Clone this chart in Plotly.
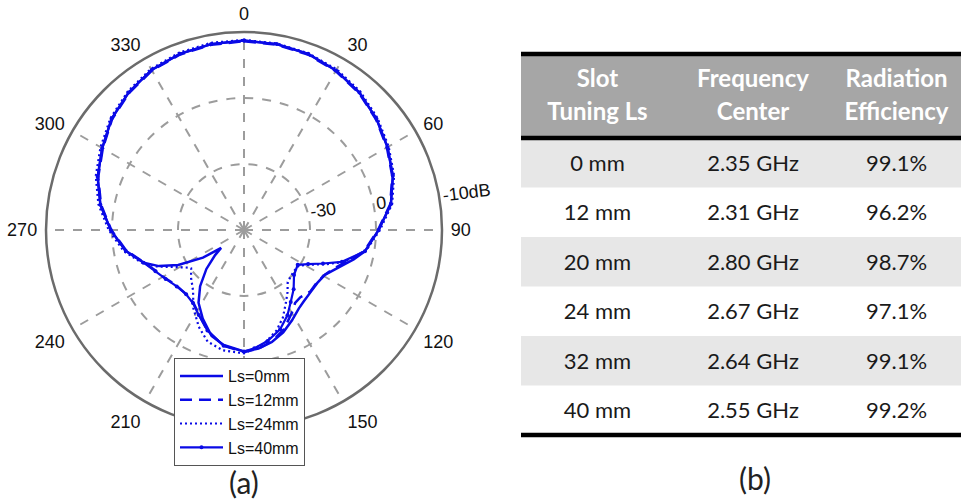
import plotly.graph_objects as go

# ---------------- data ----------------
angle_ticks = [0, 30, 60, 90, 120, 150, 180, 210, 240, 270, 300, 330]
angle_ticktext = ["0", "30", "60", "90", "120", "150", "", "210", "240", "270", "300", "330"]  # 180 hidden by legend
radial_tickvals = [1, 2, 3]
radial_ticktext = ["-30", "0", "-10dB"]

theta_ls0 = [0, 10, 20, 30, 40, 50, 60, 70, 80, 90, 100, 105, 110, 119, 126, 133, 140, 145, 152,
             159, 166, 173, 180, 190, 197, 205, 212, 218, 224, 229, 232, 236, 242, 247, 252, 260,
             270, 280, 290, 300, 310, 320, 330, 340, 350, 360]
r_ls0 = [2.87, 2.86, 2.84, 2.79, 2.72, 2.62, 2.51, 2.40, 2.26, 2.04, 1.86, 1.72, 1.58, 1.40, 1.37,
         1.38, 1.41, 1.45, 1.55, 1.66, 1.75, 1.81, 1.84, 1.77, 1.68, 1.48, 1.30, 1.08, 0.82, 0.58,
         0.44, 0.75, 1.13, 1.40, 1.60, 1.82, 2.02, 2.21, 2.36, 2.48, 2.62, 2.72, 2.80, 2.84, 2.86, 2.87]

theta_ls12 = [0, 10, 20, 30, 40, 50, 60, 70, 80, 90, 100, 108, 115, 120, 127, 133, 140, 145, 150,
              158, 166, 173, 180, 190, 200, 207, 215, 222, 229, 235, 241, 245, 252, 260,
              270, 280, 290, 300, 310, 320, 330, 340, 350, 360]
r_ls12 = [2.86, 2.85, 2.83, 2.78, 2.71, 2.61, 2.50, 2.39, 2.25, 2.03, 1.85, 1.60, 1.45, 1.39, 1.36,
          1.37, 1.33, 1.35, 1.45, 1.62, 1.74, 1.81, 1.85, 1.78, 1.62, 1.47, 1.34, 1.31, 1.32, 1.36,
          1.43, 1.47, 1.59, 1.81, 2.01, 2.20, 2.35, 2.47, 2.61, 2.71, 2.79, 2.83, 2.85, 2.86]

theta_ls24 = [0, 10, 20, 30, 40, 50, 60, 70, 80, 90, 100, 108, 113, 118, 123, 130, 140, 145, 150,
              156, 162, 170, 180, 190, 198, 205, 213, 220, 228, 234, 236, 241, 247, 252, 260,
              270, 280, 290, 300, 310, 320, 330, 340, 350, 360]
r_ls24 = [2.88, 2.87, 2.85, 2.81, 2.74, 2.64, 2.53, 2.42, 2.28, 2.06, 1.87, 1.58, 1.33, 1.12, 0.99,
          0.98, 1.03, 1.15, 1.27, 1.45, 1.60, 1.75, 1.87, 1.85, 1.78, 1.62, 1.41, 1.20, 1.08, 0.99,
          1.02, 1.16, 1.42, 1.62, 1.85, 2.05, 2.24, 2.39, 2.51, 2.64, 2.74, 2.82, 2.86, 2.88, 2.88]

theta_ls40 = [0, 10, 20, 30, 40, 50, 60, 70, 80, 90, 100, 108, 113, 118, 123, 132, 140, 147, 153,
              160, 168, 175, 180, 190, 200, 208, 215, 222, 230, 238, 245, 252, 260,
              270, 280, 290, 300, 310, 320, 330, 340, 350, 360]
r_ls40 = [2.87, 2.86, 2.84, 2.79, 2.72, 2.62, 2.51, 2.40, 2.26, 2.04, 1.86, 1.56, 1.30, 1.10, 0.97,
          1.02, 1.17, 1.30, 1.45, 1.60, 1.72, 1.80, 1.84, 1.78, 1.62, 1.46, 1.35, 1.31, 1.33, 1.40,
          1.48, 1.60, 1.82, 2.02, 2.21, 2.36, 2.48, 2.62, 2.72, 2.80, 2.84, 2.86, 2.87]

series_names = ["Ls=0mm", "Ls=12mm", "Ls=24mm", "Ls=40mm"]

table_header = [["Slot", "Tuning Ls"], ["Frequency", "Center"], ["Radiation", "Efficiency"]]
slot_ls = ["0 mm", "12 mm", "20 mm", "24 mm", "32 mm", "40 mm"]
freq_center = ["2.35 GHz", "2.31 GHz", "2.80 GHz", "2.67 GHz", "2.64 GHz", "2.55 GHz"]
rad_eff = ["99.1%", "96.2%", "98.7%", "97.1%", "99.1%", "99.2%"]

# ---------------- figure ----------------
W, H = 961, 502
BLUE = "#0a0ae6"
GRID = "#9c9c9c"
PFONT = "Liberation Sans"
TFONT = "Lato"
CLEAR = "rgba(0,0,0,0)"
NB = "\u00a0"

# table geometry (pixels)
TX0, TX1 = 521, 961
T_TOP, T_HEAD = 54, 138
ROW_H = 49.5
N_ROWS = len(slot_ls)
T_BOT = T_HEAD + ROW_H * N_ROWS
HEAD_FILL = "#a6a6a6"
ROW_FILL = "#e7e7e7"
COLW = [153, 158, 129]


def py(p):
    return 1 - p / H


fig = go.Figure()
fig.add_trace(go.Scatterpolar(theta=theta_ls0, r=r_ls0, mode="lines", name=series_names[0],
                              line=dict(color=BLUE, width=2.5)))
fig.add_trace(go.Scatterpolar(theta=theta_ls12, r=r_ls12, mode="lines", name=series_names[1],
                              line=dict(color=BLUE, width=2.5, dash="12px,7px")))
fig.add_trace(go.Scatterpolar(theta=theta_ls24, r=r_ls24, mode="lines", name=series_names[2],
                              line=dict(color=BLUE, width=2.2, dash="2px,3px")))
fig.add_trace(go.Scatterpolar(theta=theta_ls40, r=r_ls40, mode="lines+markers", name=series_names[3],
                              line=dict(color=BLUE, width=2.2), marker=dict(size=4, color=BLUE)))

# header (two single-line header rows so each line is centred)
fig.add_trace(go.Table(
    domain=dict(x=[TX0 / W, TX1 / W], y=[py(T_HEAD), py(61)]),
    columnwidth=COLW,
    header=dict(values=table_header, fill_color=CLEAR, height=33,
                font=dict(family=TFONT, size=24, color="white", weight="bold"),
                align="center", line=dict(width=0, color=CLEAR)),
    cells=dict(values=[[], [], []], fill_color=CLEAR, height=1,
               line=dict(width=0, color=CLEAR)),
))
# body rows (first data row rendered as the header row of this table)
fig.add_trace(go.Table(
    domain=dict(x=[TX0 / W, TX1 / W], y=[0.0, py(146)]),
    columnwidth=COLW,
    header=dict(values=[slot_ls[0], freq_center[0], rad_eff[0]], fill_color=CLEAR, height=ROW_H,
                font=dict(family=TFONT, size=22, color="#1a1a1a"),
                align="center", line=dict(width=0, color=CLEAR)),
    cells=dict(values=[slot_ls[1:], freq_center[1:], rad_eff[1:]], fill_color=CLEAR,
               height=ROW_H, font=dict(family=TFONT, size=22, color="#1a1a1a"),
               align="center", line=dict(width=0, color=CLEAR)),
))

shapes = [dict(type="rect", xref="paper", yref="paper", x0=TX0 / W, x1=TX1 / W,
               y0=py(T_HEAD), y1=py(T_TOP), fillcolor=HEAD_FILL, line=dict(width=0), layer="below")]
for i in range(0, N_ROWS, 2):
    shapes.append(dict(type="rect", xref="paper", yref="paper", x0=TX0 / W, x1=TX1 / W,
                       y0=py(T_HEAD + ROW_H * (i + 1)), y1=py(T_HEAD + ROW_H * i),
                       fillcolor=ROW_FILL, line=dict(width=0), layer="below"))
for yy in (T_TOP, T_HEAD, T_BOT):
    shapes.append(dict(type="line", xref="paper", yref="paper", x0=TX0 / W, x1=TX1 / W,
                       y0=py(yy), y1=py(yy), line=dict(color="black", width=4.5), layer="above"))

# radial tick labels start at their ring, as in the reference
radial_pad = [6, 3, 11]
radial_labels = [NB * n + t for n, t in zip(radial_pad, radial_ticktext)]

fig.update_layout(
    width=W, height=H, margin=dict(l=0, r=0, t=0, b=0),
    paper_bgcolor="white", plot_bgcolor="white",
    showlegend=True,
    polar=dict(
        domain=dict(x=[46 / W, 442 / W], y=[py(428), py(32)]),
        bgcolor="white",
        angularaxis=dict(rotation=90, direction="clockwise", tickmode="array",
                         tickvals=angle_ticks, ticktext=angle_ticktext,
                         showline=True, linecolor="#6b6b6b", linewidth=2.5,
                         showgrid=True, gridcolor=GRID, gridwidth=2, griddash="dash",
                         ticks="outside", ticklen=4, tickcolor=CLEAR,
                         tickfont=dict(family=PFONT, size=18, color="#111")),
        radialaxis=dict(range=[0, 3], tickmode="array", tickvals=radial_tickvals,
                        ticktext=radial_labels, angle=7, tickangle=0, side="counterclockwise",
                        showline=False, showgrid=True, gridcolor=GRID, gridwidth=2, griddash="dash",
                        ticks="", tickfont=dict(family=PFONT, size=18, color="#111")),
    ),
    legend=dict(x=174 / W, y=py(358), xanchor="left", yanchor="top", itemwidth=43,
                bgcolor="white", bordercolor="#555555", borderwidth=1,
                font=dict(family=PFONT, size=16, color="#111")),
    annotations=[
        dict(text="(a)", x=244 / W, y=py(482), xref="paper", yref="paper", showarrow=False,
             xanchor="center", yanchor="middle", font=dict(family=TFONT, size=30, color="#222")),
        dict(text="(b)", x=755 / W, y=py(478), xref="paper", yref="paper", showarrow=False,
             xanchor="center", yanchor="middle", font=dict(family=TFONT, size=30, color="#222")),
    ],
    shapes=shapes,
)

fig.write_html("out.html")
